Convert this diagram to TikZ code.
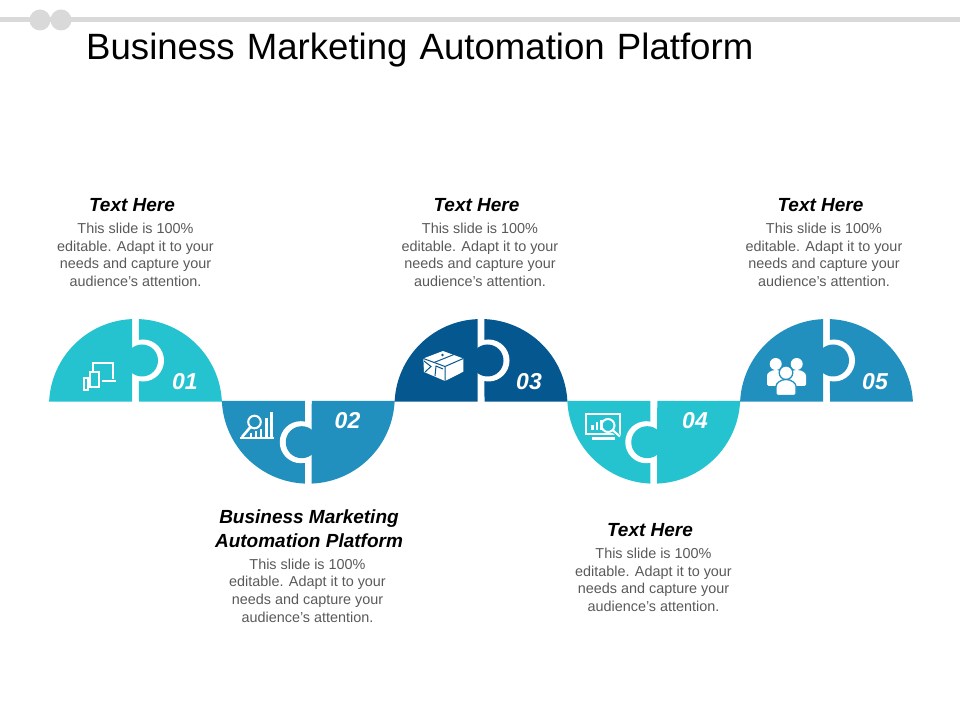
\documentclass[tikz,border=0pt]{standalone}
\usepackage{fontspec}
\setmainfont{Liberation Sans}
\usetikzlibrary{positioning}
\definecolor{teal1}{HTML}{24C3CF}
\definecolor{blue1}{HTML}{2290BF}
\definecolor{navy1}{HTML}{04588F}
\definecolor{grey1}{HTML}{D9D9D9}
\definecolor{grey2}{HTML}{595959}
\newcommand{\slidetext}{This slide is 100\%\\editable. Adapt it to your\\needs and capture your\\audience's attention.}
% centre x, baseline y, rotation, colour
\newcommand{\puzzlepiece}[4]{
  \begin{scope}[shift={(#1,#2)},rotate=#3]
    \fill[#4] (3.5,0) -- (86.4,0) arc[start angle=2.6,end angle=87.7,radius=86.6] -- cycle;
    \fill[white] (7.5,41.2) circle[radius=21];
    \fill[#4] (-3.5,0) -- (-86.4,0) arc[start angle=177.4,end angle=92.3,radius=86.6] -- cycle;
    \fill[#4] (6.5,41.2) circle[radius=16];
  \end{scope}
}
\tikzset{
  heading/.style={font=\bfseries\itshape\fontsize{19}{23.5}\selectfont, align=center, inner sep=0pt, text=black},
  bodytext/.style={font=\fontsize{14.4}{17.7}\selectfont, align=center, inner sep=0pt, text=grey2},
  stepnum/.style={font=\bfseries\itshape\fontsize{23}{23}\selectfont, text=white, inner sep=0pt},
  iconline/.style={draw=white, line width=2pt, fill=none},
  iconbar/.style={draw=white, line width=2.6pt, fill=none},
  boxline/.style={draw=navy1, line width=1pt},
  person/.style={fill=white, draw=blue1, line width=1.3pt}
}
\begin{document}
\begin{tikzpicture}[x=1pt,y=1pt]
      \useasboundingbox (0,0) rectangle (960,720);
      % Top bar
      \fill[grey1] (0,697.5) rectangle (960,702.5);
      \fill[grey1] (40,700) circle[radius=10.5];
      \fill[grey1] (61,700) circle[radius=10.5];
      \node[font=\fontsize{36.6}{40}\selectfont, anchor=base west, inner sep=0pt, text=black] (title) at (86,660.5) {Business\hspace{2pt} Marketing\hspace{2pt} Automation\hspace{2pt} Platform};
      % Puzzle pieces
      \puzzlepiece{135.5}{318.3}{0}{teal1}
      \puzzlepiece{308.25}{319}{180}{blue1}
      \puzzlepiece{481}{318.3}{0}{navy1}
      \puzzlepiece{653.75}{319}{180}{teal1}
      \puzzlepiece{826.5}{318.3}{0}{blue1}
      % Numbers
      \node[stepnum] (num1) at (185,338) {01};
      \node[stepnum] (num2) at (347.5,299) {02};
      \node[stepnum] (num3) at (529,338) {03};
      \node[stepnum] (num4) at (695,299) {04};
      \node[stepnum] (num5) at (875,338) {05};
      % Texts
      \node[heading] (head1) at (132,515) {Text Here};
      \node[bodytext, below=11pt of head1, xshift=3.5pt] (body1) {\slidetext};
      \node[heading] (head3) at (476.5,515) {Text Here};
      \node[bodytext, below=11pt of head3, xshift=3.5pt] (body3) {\slidetext};
      \node[heading] (head5) at (820.5,515) {Text Here};
      \node[bodytext, below=11pt of head5, xshift=3.5pt] (body5) {\slidetext};
      \node[heading] (head2) at (309,191.5) {Business Marketing\\Automation Platform};
      \node[bodytext, below=11pt of head2, xshift=-1.5pt] (body2) {\slidetext};
      \node[heading] (head4) at (650,190) {Text Here};
      \node[bodytext, below=11pt of head4, xshift=3.5pt] (body4) {\slidetext};
      % Devices icon
      \begin{scope}[shift={(0,720)},yscale=-1]
        \draw[iconline] (92.5,371) -- (92.5,363.5) -- (113,363.5) -- (113,379);
        \draw[iconbar] (102,381) -- (116,381);
        \draw[iconline] (89.5,372.5) rectangle (99,387);
        \draw[iconline] (83.5,378.5) rectangle (88,390);
      % Chart and lens icon
        \draw[iconline] (240,438.5) -- (274,438.5);
        \draw[iconbar] (271.5,412) -- (271.5,437);
        \draw[iconbar] (266.5,418) -- (266.5,437);
        \draw[iconline] (254.5,422) circle[radius=6.3];
        \draw[iconbar] (250.5,427) -- (242,437);
        \draw[iconbar] (251,433) -- (251,437);
        \draw[iconbar] (256,431) -- (256,437);
        \draw[iconbar] (261,429) -- (261,437);
      % Box icon
        \fill[white] (423.3,358.5) -- (443,351) -- (463.3,358.5) -- (463.3,371.7) -- (445,381) -- (424,372) -- cycle;
        \draw[boxline] (423.3,358.5) -- (445,366.5) -- (463.3,358.5) (445,366.5) -- (445,381);
        \draw[boxline] (434,362.5) -- (454,354.5);
        \draw[boxline] (424,361) -- (431,366.5) -- (425,372) (443,369) -- (436,366) -- (435,376);
        \fill[navy1] (442.5,355) circle[radius=1.4];
      % Monitor icon
        \draw[iconline] (586,414) rectangle (620,434);
        \draw[iconbar] (592,438.5) -- (615,438.5);
        \draw[iconbar] (592.5,430) -- (592.5,425) (597,430) -- (597,422.5) (601.5,430) -- (601.5,420);
        \draw[draw=teal1, line width=4pt] (612.5,430) -- (619,436);
        \draw[iconline] (608,425.5) circle[radius=6.5];
        \draw[iconline] (612.5,430) -- (620,436.5);
      % People icon
        \fill[white] (775.7,364) circle[radius=6];
        \fill[white] (796.7,364) circle[radius=6];
        \fill[white, rounded corners=1.5pt] (767,386) -- (767,377) arc[start angle=180,end angle=360,x radius=9,y radius=7] -- (785,386) -- cycle;
        \fill[white, rounded corners=1.5pt] (788,386) -- (788,377) arc[start angle=180,end angle=360,x radius=9,y radius=7] -- (806,386) -- cycle;
        \draw[person] (786,372.7) circle[radius=6.8];
        \draw[person, rounded corners=1.5pt] (776,395.5) -- (776,388) arc[start angle=180,end angle=360,x radius=10,y radius=8.5] -- (796,395.5) -- cycle;
      \end{scope}
    \end{tikzpicture}
\end{document}
